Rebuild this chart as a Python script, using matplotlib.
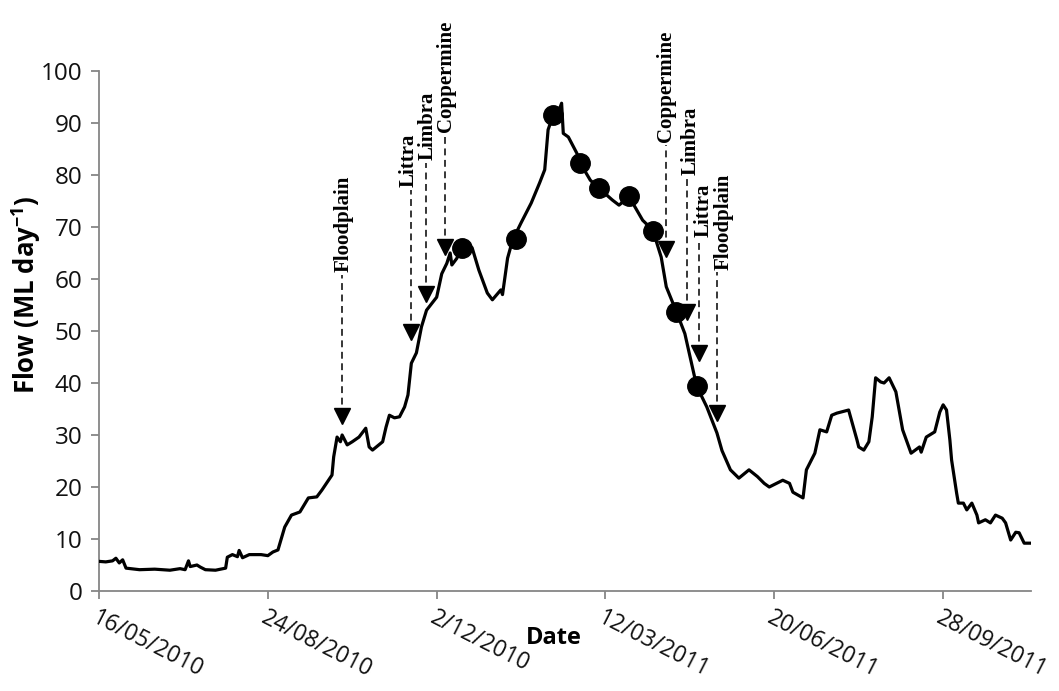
import numpy as np
import matplotlib
matplotlib.use("Agg")
import matplotlib.pyplot as plt
import matplotlib.dates as mdates
from matplotlib.ticker import FuncFormatter, MultipleLocator

# ---- data -------------------------------------------------------------
start = np.datetime64("2010-05-16")

# daily flow trace, days since 16/05/2010 and flow in ML/day
flow_day = [0, 4, 8, 10, 12, 14, 16, 24, 33, 42, 48, 51, 53, 54, 58, 60, 63, 69,
            75, 76, 79, 82, 83, 85, 89, 96, 100, 103, 106, 110, 114, 119, 124,
            129, 132, 138, 139, 141, 143, 144, 147, 150, 154, 158, 160, 162, 168,
            170, 172, 175, 178, 181, 183, 185, 188, 191, 194, 200, 203, 206, 208,
            209, 212, 215, 221, 225, 230, 233, 238, 239, 242, 245, 250, 256, 261,
            264, 266, 269, 272, 274, 275, 278, 283, 285, 291, 296, 304, 308, 314,
            322, 328, 333, 336, 342, 347, 354, 360, 366, 369, 374, 379, 385, 390,
            394, 397, 405, 409, 411, 417, 419, 422, 424, 427, 431, 434, 437, 444,
            449, 450, 453, 456, 458, 460, 463, 465, 468, 472, 476, 481, 486, 487,
            490, 495, 498, 500, 502, 504, 505, 508, 509, 512, 514, 517, 520, 521,
            525, 528, 531, 535, 537, 540, 543, 545, 548, 552]
flow = [5.7, 5.6, 5.8, 6.3, 5.4, 6.0, 4.4, 4.1, 4.2, 4.0, 4.3, 4.1, 5.8, 4.7,
        5.0, 4.6, 4.1, 4.0, 4.4, 6.5, 7.0, 6.6, 7.8, 6.4, 7.0, 7.0, 6.8, 7.5,
        7.9, 12.3, 14.6, 15.2, 17.9, 18.1, 19.4, 22.3, 25.8, 29.6, 28.7, 30.0,
        28.1, 28.7, 29.6, 31.3, 27.7, 27.1, 28.7, 31.5, 33.8, 33.3, 33.5, 35.4,
        37.7, 43.8, 45.8, 50.8, 54.0, 56.5, 61.0, 63.0, 65.0, 62.7, 64.0, 67.0,
        66.0, 61.7, 57.3, 56.0, 57.9, 57.0, 64.0, 67.5, 70.8, 74.6, 78.5, 81.0,
        88.7, 91.5, 92.0, 93.8, 88.0, 87.3, 84.2, 82.3, 79.0, 77.5, 75.2, 74.2,
        75.8, 71.3, 69.4, 64.2, 58.5, 53.7, 49.5, 39.4, 35.4, 30.4, 27.0, 23.3,
        21.7, 23.3, 22.0, 20.7, 20.0, 21.3, 20.7, 19.0, 17.9, 23.3, 25.2, 26.5,
        31.0, 30.6, 33.8, 34.2, 34.8, 29.0, 27.7, 27.1, 28.7, 33.5, 41.0, 40.2,
        40.0, 41.0, 38.3, 31.0, 26.5, 27.7, 26.7, 29.6, 30.6, 34.4, 35.8, 34.8,
        29.0, 25.2, 18.8, 16.9, 16.9, 15.6, 16.9, 14.6, 13.1, 13.7, 13.1, 14.6,
        14.0, 13.1, 9.8, 11.3, 11.2, 9.2, 9.2]

# sampling occasions
sample_day = [215, 247, 269, 285, 296, 314, 328, 342, 354]
sample_flow = [66.0, 67.7, 91.5, 82.3, 77.5, 76.0, 69.2, 53.7, 39.4]

# site events: label, day of arrow, day of label centre,
# arrow-head flow, top of dashed line (flow)
event_label = ["Floodplain", "Littra", "Limbra", "Coppermine",
               "Coppermine", "Limbra", "Littra", "Floodplain"]
event_day = [144, 185, 193.5, 205, 336, 348, 355.6, 366]
event_text_day = [144.7, 183.2, 194.8, 205.6, 335.8, 350.2, 358.0, 369.8]
event_tip = [33.7, 49.8, 57.1, 66.2, 65.8, 53.7, 45.8, 34.2]
event_top = [60.8, 77.1, 82.3, 87.7, 85.8, 79.4, 67.5, 61.3]

tick_day = [0, 100, 200, 300, 400, 500]
end_day = 552

# ---- figure -----------------------------------------------------------
plt.rcParams["mathtext.fontset"] = "custom"
plt.rcParams["mathtext.rm"] = "Open Sans"
plt.rcParams["mathtext.bf"] = "Open Sans:bold"


def to_num(d):
    return mdates.date2num(start) + np.asarray(d, dtype=float)


fig = plt.figure(figsize=(10.59, 6.91), dpi=100)
ax = fig.add_axes([0.0935, 0.1447, 0.88, 0.7526])

ax.plot(to_num(flow_day), flow, color="black", lw=2.3, solid_joinstyle="round",
        solid_capstyle="round", zorder=3)
ax.plot(to_num(sample_day), sample_flow, "o", color="black", ms=14, zorder=4)

for lab, d, td, tip, top in zip(event_label, event_day, event_text_day,
                                event_tip, event_top):
    x = to_num(d)
    ax.plot([x, x], [tip, top], color="black", lw=1.1, ls=(0, (4.5, 3)), zorder=5)
    ax.plot([x], [tip], "v", color="black", ms=12, zorder=5)
    ax.text(to_num(td), top + 0.5, lab, rotation=90, ha="center", va="bottom",
            family="Liberation Serif", fontweight="bold", fontsize=15,
            zorder=6)

ax.set_xlim(to_num(0), to_num(end_day))
ax.set_ylim(0, 100)
ax.yaxis.set_major_locator(MultipleLocator(10))
ax.set_xticks(to_num(tick_day))


def date_fmt(x, pos):
    d = mdates.num2date(x)
    return f"{d.day}/{d.month:02d}/{d.year}"


ax.xaxis.set_major_formatter(FuncFormatter(date_fmt))

axis_grey = "#868686"
for side in ("top", "right"):
    ax.spines[side].set_visible(False)
for side in ("left", "bottom"):
    ax.spines[side].set_color(axis_grey)
    ax.spines[side].set_linewidth(1.3)
ax.tick_params(axis="both", direction="out", length=6, width=1.3,
               color=axis_grey, labelcolor="#111111")
ax.tick_params(axis="y", labelsize=17.5, pad=6)
ax.tick_params(axis="x", labelsize=16.5, pad=5)
for t in ax.get_yticklabels() + ax.get_xticklabels():
    t.set_family("Open Sans")
for t in ax.get_xticklabels():
    t.set_rotation(-27)
    t.set_rotation_mode("anchor")
    t.set_ha("left")
    t.set_va("top")

ax.set_ylabel(r"Flow (ML day$^{\mathbf{-1}}$)", family="Open Sans",
              fontweight="bold", fontsize=18.5)
ax.yaxis.set_label_coords(-0.078, 0.57)
ax.yaxis.label.set_va("center")
ax.set_xlabel("Date", family="Open Sans", fontweight="bold", fontsize=17)
ax.xaxis.set_label_coords(0.488, -0.09)
ax.xaxis.label.set_va("center")

fig.savefig("out.png", dpi=100)
